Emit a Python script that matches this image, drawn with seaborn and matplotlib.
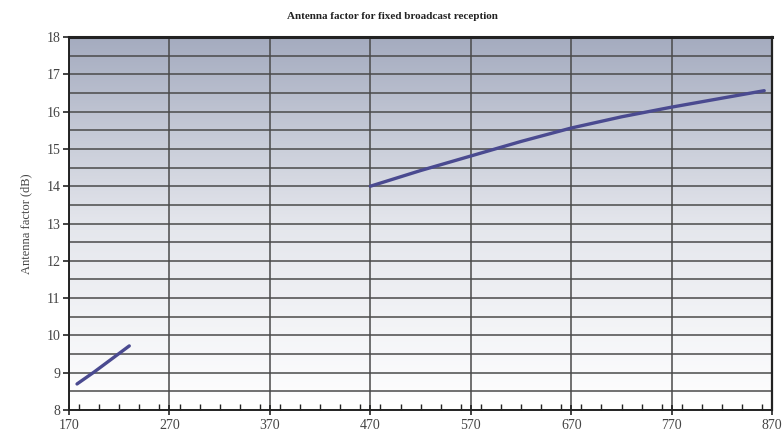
import numpy as np
import matplotlib
matplotlib.use("Agg")
import matplotlib.pyplot as plt
import matplotlib.colors as mcolors
from matplotlib.ticker import MultipleLocator
import seaborn as sns

# Band III (VHF) antenna factor
band3_freq = [178, 195, 212, 230]
band3_af = [8.70, 9.02, 9.36, 9.72]

# Bands IV/V (UHF) antenna factor
band45_freq = [470, 520, 570, 620, 670, 720, 770, 820, 862]
band45_af = [14.00, 14.42, 14.81, 15.20, 15.56, 15.86, 16.12, 16.36, 16.56]

x_ticks = [170, 270, 370, 470, 570, 670, 770, 870]
y_ticks = list(range(8, 19))

sns.set_theme(style="white")
plt.rcParams["font.family"] = ["Liberation Serif", "DejaVu Serif"]

fig = plt.figure(figsize=(7.84, 4.40), dpi=100)
ax = fig.add_axes([0.088, 0.068, 0.897, 0.848])

# vertical gradient background: grey-blue at top fading to white
cmap = mcolors.LinearSegmentedColormap.from_list("bg", ["#ffffff", "#e4e6ec", "#a4abbf"])
grad = np.linspace(0, 1, 256).reshape(-1, 1)
ax.imshow(grad, aspect="auto", cmap=cmap, origin="lower",
          extent=[170, 870, 8, 18], zorder=0)

line_color = "#4a4a90"
sns.lineplot(x=band3_freq, y=band3_af, ax=ax, color=line_color, lw=2.4, zorder=3)
sns.lineplot(x=band45_freq, y=band45_af, ax=ax, color=line_color, lw=2.4, zorder=3)

ax.set_xlim(170, 870)
ax.set_ylim(8, 18)
ax.set_xticks(x_ticks)
ax.set_yticks(y_ticks)
ax.xaxis.set_minor_locator(MultipleLocator(20))
ax.yaxis.set_minor_locator(MultipleLocator(0.5))

grid_color = "#4a4a4a"
ax.grid(True, which="major", axis="both", color=grid_color, lw=1.1, zorder=1)
ax.grid(True, which="minor", axis="y", color=grid_color, lw=1.1, zorder=1)
ax.set_axisbelow(True)

for side in ["left", "bottom", "top", "right"]:
    ax.spines[side].set_visible(True)
    ax.spines[side].set_color("#222222")
ax.spines["left"].set_linewidth(1.4)
ax.spines["bottom"].set_linewidth(1.4)
ax.spines["top"].set_linewidth(2.2)
ax.spines["right"].set_linewidth(1.6)

ax.tick_params(axis="x", which="major", direction="inout", length=7, width=1.2,
               color="#222222", labelsize=10, labelcolor="#444444", pad=3, bottom=True)
ax.tick_params(axis="x", which="minor", direction="in", length=4, width=1.0,
               color="#222222", bottom=True)
ax.tick_params(axis="y", which="major", direction="out", length=4, width=1.2,
               color="#222222", labelsize=10, labelcolor="#444444", pad=2, left=True)
ax.tick_params(axis="y", which="minor", length=0)

ax.set_xlabel("")
ax.set_ylabel("Antenna factor (dB)", fontsize=9, color="#444444", labelpad=10)
fig.text(0.5, 0.962, "Antenna factor for fixed broadcast reception",
         ha="center", va="center", fontsize=8, fontweight="bold", color="#222222")

fig.savefig("out.png", dpi=100)
